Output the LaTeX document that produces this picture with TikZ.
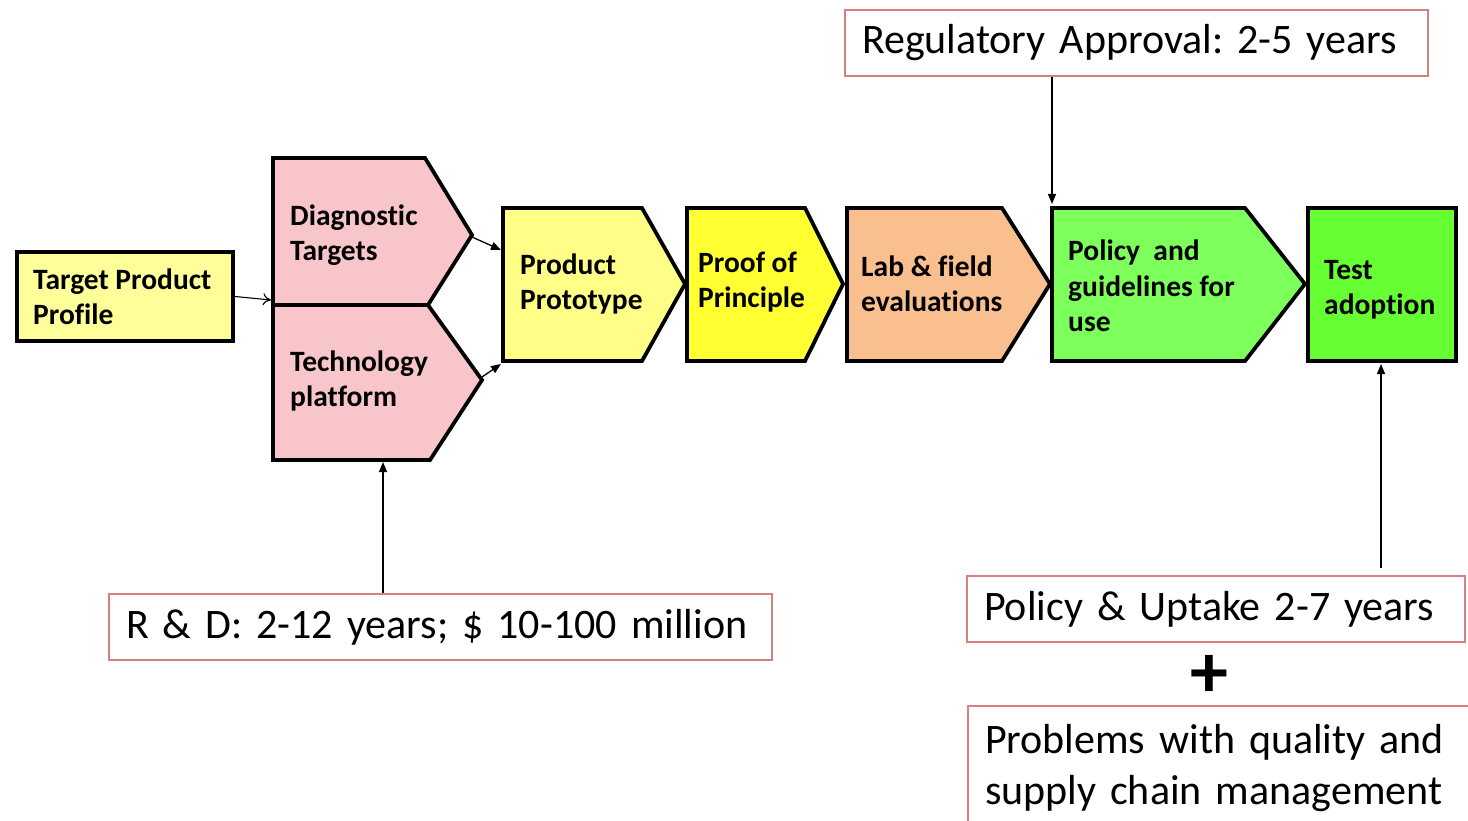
\documentclass[tikz,border=0pt]{standalone}
\usepackage{fontspec}
\setmainfont{Carlito}[Ligatures=NoCommon]
\usepackage{xcolor}
\usepackage{tikz}
\usetikzlibrary{positioning,arrows.meta}
\frenchspacing

\definecolor{tppyellow}{RGB}{255,255,153}
\definecolor{dotpink}{RGB}{248,198,202}
\definecolor{hatchyellow}{RGB}{255,255,135}
\definecolor{dotyellow}{RGB}{255,255,50}
\definecolor{labpeach}{RGB}{250,191,143}
\definecolor{dotgreen}{RGB}{125,255,92}
\definecolor{adoptgreen}{RGB}{102,255,51}
\definecolor{boxred}{RGB}{214,128,128}

\begin{document}
\begin{tikzpicture}[x=1pt, y=-1pt,
  stage/.style={draw=black, line width=3.8pt, line join=miter},
  stagetext/.style={anchor=west, align=left, inner sep=0pt, font=\fontsize{29.5}{35.5}\selectfont\bfseries},
  notebox/.style={draw=boxred, line width=2pt, fill=white, inner xsep=17pt, align=left, font=\fontsize{42}{51}\selectfont},
  flow/.style={line width=1.3pt, -{Triangle[length=10pt, width=8pt]}},
  openflow/.style={line width=1.1pt, -{To[length=8pt, width=12pt]}}
]

\useasboundingbox (0,0) rectangle (1468,821);

% Target product profile box
\node[draw=black, line width=3.8pt, fill=tppyellow, minimum width=216pt, minimum height=89pt, inner sep=0pt] (tpp) at (125,296.5) {};
\node[stagetext] (tpptext) at (33,297) {Target Product\\Profile};

% The two pink stages
\draw[stage, fill=dotpink] (273,158) -- (425,158) -- (472,235) -- (428,305) -- (273,305) -- cycle;
\draw[stage, fill=dotpink] (273,305) -- (428,305) -- (482,380) -- (430,460) -- (273,460) -- cycle;
\coordinate (diagtip) at (472,237);
\coordinate (techtip) at (482,377);
\coordinate (diagjoin) at (271,300);
\coordinate (techbot) at (383,462);
\node[stagetext] (diag) at (290,235) {Diagnostic\\Targets};
\node[stagetext] (tech) at (290,381) {Technology\\platform};

% Main chain of stages
\draw[stage, fill=hatchyellow] (503,208) -- (642,208) -- (685,284) -- (642,361) -- (503,361) -- cycle;
\draw[stage, fill=dotyellow] (687,208) -- (805,208) -- (843,284) -- (805,361) -- (687,361) -- cycle;
\draw[stage, fill=labpeach] (847,208) -- (1002,208) -- (1050,284) -- (1002,361) -- (847,361) -- cycle;
\draw[stage, fill=dotgreen] (1052,208) -- (1245,208) -- (1305,284) -- (1245,361) -- (1052,361) -- cycle;
\draw[stage, fill=adoptgreen] (1308,208) rectangle (1456,361);
\coordinate (protoin1) at (501,250);
\coordinate (protoin2) at (501,364);
\coordinate (polnw) at (1052,204);
\coordinate (adoptbot) at (1381,364);

\node[stagetext] (proto) at (520,284) {Product\\Prototype};
\node[stagetext] (proof) at (698,282) {Proof of\\Principle};
\node[stagetext] (lab) at (861,284) {Lab \& field\\evaluations};
\node[stagetext] (policy) at (1068,286) {Policy\ \ and\\guidelines for\\use};
\node[stagetext] (adopt) at (1324,290) {Test\\adoption};

% Time and cost notes
\node[notebox, text width=549pt, minimum height=66pt] (reg) at (1136.5,43) {Regulatory Approval: 2-5 years};
\node[notebox, text width=629pt, minimum height=66pt] (rnd) at (440.5,627) {R \& D: 2-12 years; \$ 10-100 million};
\node[notebox, text width=464pt, minimum height=66pt] (uptake) at (1216,609) {Policy \& Uptake 2-7 years};
\node[font=\fontsize{76}{80}\selectfont\bfseries, inner sep=0pt] (plus) at (1209,676) {+};
\node[notebox, text width=489pt, anchor=north west, inner ysep=18pt] (problems) at (967,705) {Problems with quality and\\supply chain management\\\strut};

% Connectors
\draw[openflow] (tpp.east) -- (diagjoin);
\draw[flow] (diagtip) -- (protoin1);
\draw[flow] (techtip) -- (protoin2);
\draw[flow] (reg.south -| polnw) -- (polnw);
\draw[flow] (rnd.north -| techbot) -- (techbot);
\draw[flow] ([yshift=7pt]uptake.north -| adoptbot) -- (adoptbot);

\end{tikzpicture}
\end{document}
